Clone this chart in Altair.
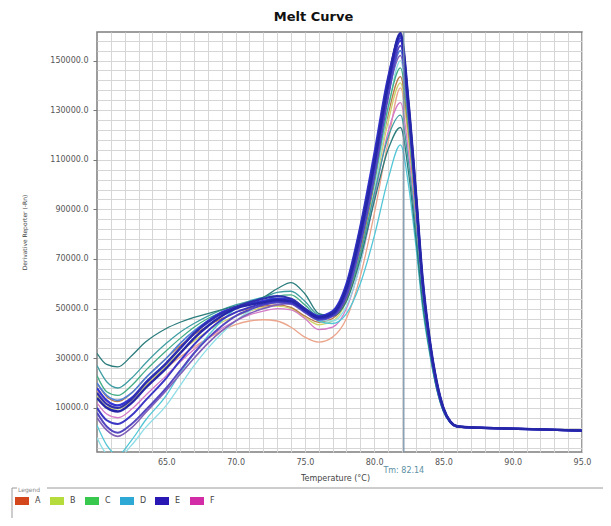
import altair as alt
import pandas as pd

temps = [60, 60.7, 61.5, 62.5, 63.5, 65, 66, 67, 68, 69, 70, 71, 72, 73, 74, 75,
         76, 77, 78, 79, 80, 81, 81.9, 82.5, 83, 83.5, 84, 84.5, 85, 85.5, 86]
# common flat tail (all wells overlap after the melt)
tail_temps = [87, 88, 90, 92, 95]
tail_k = [2.1, 1.9, 1.6, 1.3, 0.8]

# derivative reporter values, in thousands
salmon = [17, 12.5, 11, 14, 19, 26, 30.5, 34.5, 38, 41, 43.5, 45, 45.5, 45, 42.5, 38.5, 36.5, 38.5, 46, 63, 88, 117, 139, 117, 88, 57, 35, 19, 9, 4.2, 2.4]
yellow = [15, 10.5, 9.5, 13, 19, 27, 32.5, 37, 41, 44.5, 47, 49, 50.5, 51, 50, 46.5, 43.5, 45, 53, 71, 97, 125, 141, 118, 88, 57, 35, 19, 9, 4.2, 2.4]
pink = [12, 7.5, 6, 9.5, 15, 23, 28.5, 33.5, 38, 42, 45, 47.5, 49, 50, 49.5, 46, 41.5, 42.5, 50, 68, 94, 121, 133, 112, 85, 55, 35, 19, 9, 4.2, 2.4]
brown = [20, 14.5, 12.5, 16, 22, 30, 35, 39.5, 43, 46, 48.5, 50, 51, 51.5, 50.5, 47, 44.5, 46, 54, 73, 100, 128, 143.5, 120, 90, 57, 36, 19.5, 9.3, 4.3, 2.5]
light_cyan = [-2, -8.5, -10, -5, 2, 11, 19, 27, 34, 40, 45, 49, 52, 53.5, 53.5, 50, 45.5, 45, 51, 68, 97, 130, 150, 124, 92, 58, 36, 19.5, 9.3, 4.3, 2.4]
cyan = [3, -5, -9, -3, 5, 15, 24, 32, 39, 45, 50, 53, 54.5, 55, 54, 50, 45, 44, 48, 60, 79, 102, 116, 99, 76, 50, 32, 18, 8.5, 4, 2.3]
green_teal = [23, 16.5, 15, 19, 25, 33, 38, 42.5, 46, 48.5, 50.5, 52, 53, 55, 55.5, 51.5, 47, 48, 56, 75, 101, 131, 147, 122, 91, 58, 36, 19.5, 9.3, 4.3, 2.5]
teal = [27, 20.5, 18, 22, 28, 36, 40.5, 44, 47, 49.5, 51.5, 53, 54.5, 56.5, 57, 53, 47.5, 47.5, 55, 72, 96, 119, 128, 108, 82, 53, 34, 18.5, 8.8, 4.1, 2.4]
dark_teal = [32, 27.5, 26.5, 31, 36.5, 42, 44.5, 46.5, 48, 49.5, 51, 52.5, 54.5, 58, 60.5, 56, 48, 47, 53, 70, 93, 114, 123, 104, 79, 52, 33, 18, 8.5, 4, 2.4]
purple = [6, 1, -1.5, 2, 8, 17, 23.5, 30, 36, 41, 45, 48, 50, 51.5, 52, 49, 46, 47, 55, 76, 104, 136, 152, 126, 94, 59, 36, 20, 9.5, 4.3, 2.4]
blue_cyan = [20, 15, 13, 16, 22, 30, 36, 41, 45, 48, 50.5, 52, 53, 54, 53, 49, 46, 47.5, 56, 77, 104, 136, 154, 127, 94, 59, 36, 20, 9.5, 4.3, 2.4]
purple_blue = [8, 2.5, 0, 3.5, 9, 18, 25, 32, 38, 43, 47, 49.5, 51.5, 52.5, 52, 48.5, 45.5, 47, 55, 76, 103, 135, 156, 128, 95, 60, 36, 20, 9.5, 4.3, 2.4]
indigo = [10, 5, 3.5, 7, 13, 22, 29, 35.5, 41, 45.5, 48.5, 50.5, 52, 53, 52.5, 49, 46, 47.5, 57, 79, 107, 139, 158, 129, 96, 60, 37, 20.5, 9.8, 4.4, 2.5]
blue_a = [18, 13, 11, 14, 20, 28, 34, 40, 45, 48.5, 50.5, 52, 53, 54, 53.5, 50, 47, 49, 60, 83, 112, 143, 159, 130, 96, 60, 37, 20, 9.5, 4.3, 2.5]
blue_b = [16, 11.5, 10, 13.5, 20, 28, 34, 40, 44.5, 48, 50.5, 52.5, 54, 55, 54, 50, 46.5, 48.5, 59, 82, 110, 142, 160, 131, 97, 61, 37, 20.5, 9.8, 4.4, 2.5]
blue_c = [14, 10, 8.5, 12, 18, 26, 32, 38, 43, 47, 50, 51.5, 52.5, 53.5, 53, 49.5, 46.5, 48, 58, 80, 108, 140, 161, 132, 98, 62, 38, 21, 10, 4.5, 2.6]

curve_ids = ["c01", "c02", "c03", "c04", "c05", "c06", "c07", "c08",
             "c09", "c10", "c11", "c12", "c13", "c14", "c15", "c16"]
curve_vals = [salmon, yellow, pink, brown, light_cyan, cyan, green_teal, teal,
              dark_teal, purple, blue_cyan, purple_blue, indigo, blue_a, blue_b, blue_c]
curve_colors = ["#eba58c", "#cfd36a", "#d47ac8", "#b9794a", "#8fdde6", "#52c6d6",
                "#43ad86", "#3f9ea3", "#2c7c7c", "#8060b8", "#4f7fd6", "#5447c0",
                "#3b36c4", "#3434d6", "#2f2fb0", "#2626a8"]
curve_widths = [1.3] * 9 + [1.6, 1.6, 2.0, 2.0, 2.2, 2.2, 2.4]

tm_value = 82.14
groups = ["A", "B", "C", "D", "E", "F"]
group_colors = ["#d4461c", "#b5dc3c", "#38c84e", "#2ea8d4", "#2a18b4", "#d22ca6"]

rows = []
for cid, vals, w in zip(curve_ids, curve_vals, curve_widths):
    for t, v in zip(temps + tail_temps, vals + tail_k):
        rows.append({"curve": cid, "T": t, "V": v * 1000, "w": w})
df = pd.DataFrame(rows)

FONT = "DejaVu Sans"
xscale = alt.Scale(domain=[60, 95], nice=False, zero=False)
yscale = alt.Scale(domain=[-7800, 161500], nice=False, zero=False)

x_axis = alt.Axis(
    values=list(range(61, 96)), tickCount=200,
    labelExpr="datum.value % 5 == 0 ? format(datum.value, '.1f') : ''",
    grid=True, gridColor="#d6d6d6", gridWidth=1,
    ticks=False, domain=False,
    labelFont=FONT, labelFontSize=8, labelColor="#555", labelPadding=6,
    labelOverlap=False, labelFlush=False, labelBound=False,
    title="Temperature (°C)", titleFont=FONT, titleFontSize=8,
    titleFontWeight="normal", titleColor="#444",
    titleX=238, titleY=26, titleAlign="center", titleBaseline="middle",
)
y_axis = alt.Axis(
    values=list(range(-6000, 161001, 4000)), tickCount=200,
    labelExpr="(datum.value - 10000) % 20000 == 0 ? format(datum.value, '.1f') : ''",
    grid=True, gridColor="#d6d6d6", gridWidth=1,
    ticks=True, tickSize=4, tickColor="#777",
    tickOpacity={"condition": {"test": "(datum.value - 10000) % 20000 == 0", "value": 1}, "value": 0},
    domain=False,
    labelFont=FONT, labelFontSize=8, labelColor="#555", labelPadding=5,
    labelOverlap=False, labelBound=False, labelFlush=False,
    title="Derivative Reporter (-Rn)", titleFont=FONT, titleFontSize=6,
    titleFontWeight="normal", titleColor="#444",
    titleX=-73, titleY=200, titleAngle=270, titleAlign="center", titleBaseline="middle",
)

lines = alt.Chart(df).mark_line(interpolate="monotone", clip=True).encode(
    x=alt.X("T:Q", scale=xscale, axis=x_axis),
    y=alt.Y("V:Q", scale=yscale, axis=y_axis),
    color=alt.Color("curve:N", scale=alt.Scale(domain=curve_ids, range=curve_colors), legend=None),
    strokeWidth=alt.StrokeWidth("w:Q", scale=None),
)

tm_df = pd.DataFrame({"Tm": [tm_value], "label": [f"Tm: {tm_value:.2f}"]})
tm_rule = alt.Chart(tm_df).mark_rule(color="#7893aa", strokeWidth=1.3).encode(
    x=alt.X("Tm:Q", scale=xscale, axis=x_axis),
)
tm_text = alt.Chart(tm_df).mark_text(
    font=FONT, fontSize=8, color="#5c8fa3", align="center", baseline="middle"
).encode(x=alt.X("Tm:Q", scale=xscale, axis=x_axis), y=alt.value(439), text="label:N")

frame = alt.Chart(pd.DataFrame({"k": [0]})).mark_rect(
    fill="white", fillOpacity=0, stroke="#9a9a9a", strokeWidth=1
).encode(x=alt.value(-85), x2=alt.value(530), y=alt.value(456), y2=alt.value(500))
caption_bg = alt.Chart(pd.DataFrame({"k": [0]})).mark_rect(color="white").encode(
    x=alt.value(-80), x2=alt.value(-50), y=alt.value(452), y2=alt.value(460)
)

legend_df = pd.DataFrame({"group": groups, "T": [None] * 6, "V": [None] * 6})
legend_layer = alt.Chart(legend_df).mark_square(clip=True).encode(
    x=alt.X("T:Q", scale=xscale, axis=x_axis),
    y=alt.Y("V:Q", scale=yscale, axis=y_axis),
    color=alt.Color(
        "group:N",
        scale=alt.Scale(domain=groups, range=group_colors),
        legend=alt.Legend(
            title="Legend", orient="none", legendX=-79, legendY=455,
            direction="horizontal", columns=6, gridAlign="all",
            symbolType="M-1.75,-1H1.75V1H-1.75Z", symbolSize=64,
            symbolStrokeWidth=0, symbolOpacity=1,
            labelFont=FONT, labelFontSize=8, labelColor="#444", labelOffset=9,
            titleFont=FONT, titleFontSize=6, titleColor="#888",
            titleFontWeight="normal", titlePadding=4, columnPadding=8, padding=0,
        ),
    ),
)

chart = alt.layer(frame, caption_bg, lines, tm_rule, tm_text, legend_layer).resolve_scale(
    color="independent"
).properties(
    width=485, height=420,
    padding={"left": 89, "top": 24, "right": 21, "bottom": 66},
    autosize=alt.AutoSizeParams(type="none"),
    title=alt.Title("Melt Curve", font=FONT, fontSize=13, fontWeight="bold",
                    color="#111", anchor="middle", dx=-26, offset=7),
).configure_view(stroke="#7d7d7d", strokeWidth=1.5)

chart.save("out.html", embed_options={"renderer": "svg", "actions": False})
